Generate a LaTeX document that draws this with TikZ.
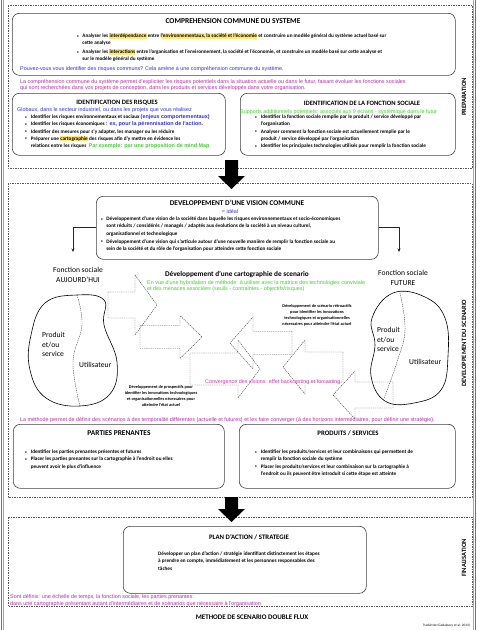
\documentclass[tikz,border=0pt]{standalone}
\usepackage{fontspec}
\setmainfont{Carlito}
\newfontfamily\arialf{Liberation Sans}
\usetikzlibrary{arrows.meta}
\definecolor{bluet}{RGB}{45,45,235}
\definecolor{greent}{RGB}{60,210,40}
\definecolor{purplet}{RGB}{185,40,170}
\definecolor{magt}{RGB}{215,50,180}
\definecolor{hly}{RGB}{255,232,120}
\newcommand\hlt[1]{{\setlength{\fboxsep}{0.2pt}\colorbox{hly}{\vphantom{Ég}#1}}}
\newcommand\bodyf{\fontsize{5.2}{7.3}\selectfont\bfseries}
\newcommand\colf{\arialf\fontsize{5.4}{6.5}\selectfont}
\newcommand\smallf{\fontsize{4.3}{6}\selectfont\bfseries}
\newcommand\blt{\raisebox{0.5pt}{\fontsize{3.4}{4}\selectfont\textbullet}}
\newcommand\llines[1]{\begin{tabular}[t]{@{}l@{}}#1\end{tabular}}
\newcommand\clines[1]{\begin{tabular}[t]{@{}c@{}}#1\end{tabular}}
\newcommand\barrow[6]{\draw[darr] (#1,#4-#5) -- (#2,#4-#5) -- (#2,#4-#6) -- (#3,#4) -- (#2,#4+#6) -- (#2,#4+#5) -- (#1,#4+#5) -- cycle;}
\tikzset{
  rbox/.style={draw=black!75, line width=0.6pt, rounded corners=7pt, anchor=north west, inner sep=0pt},
  sect/.style={draw=black!65, line width=0.5pt, dash pattern=on 1.5pt off 1pt},
  darr/.style={draw=black!70, line width=0.45pt, dash pattern=on 1.3pt off 0.9pt},
  tx/.style={inner sep=0pt, anchor=base west},
  txc/.style={inner sep=0pt, anchor=base},
  head/.style={inner sep=0pt, anchor=base},
  side/.style={inner sep=0pt, rotate=90, font=\bfseries\fontsize{6.5}{7}\selectfont},
  conn/.style={draw=black!85, line width=0.7pt},
  blob/.style={draw=black, line width=0.6pt},
  blobd/.style={draw=black!70, line width=0.45pt, dash pattern=on 1.3pt off 0.9pt},
  bigarr/.style={fill=black, draw=none}
}
\begin{document}
\begin{tikzpicture}[x=1pt, y=-1pt]
\useasboundingbox (0,0) rectangle (477,630);
% page edges
\draw[black!55, line width=1.2pt] (1.2,0) -- (1.2,630);
\draw[black!35, line width=0.5pt] (3.6,0) -- (3.6,630);
\draw[black!55, line width=1.2pt] (475.8,0) -- (475.8,630);
\draw[black!35, line width=0.5pt] (473.4,0) -- (473.4,630);
% sections
\draw[sect] (8,5) rectangle (472,168);
\draw[sect] (8,183) rectangle (472,497);
\draw[sect] (8,517) rectangle (472,606.5);
\node[side] (lprep) at (464,97) {PREPARATION};
\node[side] (ldev) at (464,343) {DEVELOPPEMENT DU SCENARIO};
\node[side] (lfin) at (464,558) {FINALISATION};

% ===== top box
\node[rbox, minimum width=443pt, minimum height=62pt] (cbox) at (12,13) {};
\node[head, font=\bfseries\fontsize{7.5}{8}\selectfont] (cboxh) at (233,23.5) {COMPREHENSION COMMUNE DU SYSTEME};
\node[tx] (cboxb) at (77,37.5) {\bodyf\begin{tabular}[t]{@{}l@{\hspace{3.5pt}}l@{}}
\blt & Analyser les \hlt{interdépendance} entre \hlt{l'environnementaux, la société et l'économie} et construire un modèle général du système actuel basé sur\\
 & cette analyse\\[1.5pt]
\blt & Analyser les \hlt{interactions} entre l'organisation et l'environnement, la société et l'économie, et  construire un modèle basé sur cette analyse et\\
 & sur le modèle général du système
\end{tabular}};
\node[tx, text=bluet, font=\colf] (cboxq) at (20,70) {Pouvez-vous vous identifier des risques communs? Cela amène à une compréhension commune du système.};
\node[tx, text=purplet, font=\colf] (ptxt1) at (20,83) {\llines{La compréhension commune du système permet d'expliciter les risques potentiels dans la situation actuelle ou dans le futur, faisant évoluer les fonctions sociales\\qui sont recherchées dans vos projets de conception, dans les produits et services développés dans votre organisation.}};

% ===== risks box
\node[rbox, minimum width=213pt, minimum height=62pt] (rbx) at (12,93) {};
\node[head, font=\bfseries\fontsize{6.6}{7}\selectfont] (rbxh) at (117,104.5) {IDENTIFICATION DES RISQUES};
\node[tx, text=bluet, font=\colf] (rbxs) at (17,111.5) {Globaux, dans le secteur industriel, ou dans les projets que vous réalisez};
\node[tx] (rbxb) at (25,118.5) {\bodyf\begin{tabular}[t]{@{}l@{\hspace{4pt}}l@{}}
\blt & Identifier les risques environnementaux et sociaux {\colf\color{bluet}(enjeux comportementaux)}\\
\blt & Identifier les risques économiques {\colf\color{bluet}: ex, pour la pérennisation de l'action.}\\
\blt & Identifier des mesures pour s'y adapter, les manager ou les réduire\\
\blt & Préparer une \hlt{cartographie} des risques afin d'y mettre en évidence les\\
 & relations entre les risques \ {\colf\color{greent}Par exemple: par une proposition de mind Map}
\end{tabular}};

% ===== social function box
\node[rbox, minimum width=215pt, minimum height=62pt] (fbx) at (240,93) {};
\node[head, font=\bfseries\fontsize{6.6}{7}\selectfont] (fbxh) at (362,105.5) {IDENTIFICATION DE LA FONCTION SOCIALE};
\begin{scope}
\clip (238,100) rectangle (458,120);
\node[tx, text=greent, font=\colf] (fbxs) at (240,113) {Supports additionnels potentiels: associés aux 9 écrans - systémique dans le futur};
\end{scope}
\node[tx] (fbxb) at (255,118.5) {\bodyf\begin{tabular}[t]{@{}l@{\hspace{4pt}}l@{}}
\blt & Identifier la fonction sociale remplie par le produit / service développé par\\
 & l'organisation\\
\blt & Analyser comment la fonction sociale est actuellement remplie par le\\
 & produit / service développé par l'organisation\\
\blt & Identifier les principales technologies utilisés pour remplir la fonction sociale
\end{tabular}};

% big arrow 1
\fill[bigarr] (225,160) -- (238,160) -- (238,176) -- (245,176) -- (231.5,189) -- (218,176) -- (225,176) -- cycle;

% ===== vision box
\node[rbox, minimum width=282pt, minimum height=63pt] (vis) at (96,196) {};
\node[head, font=\bfseries\fontsize{7.3}{8}\selectfont] (vish) at (237,205.5) {DEVELOPPEMENT D'UNE VISION COMMUNE};
\node[txc, text=bluet, font=\colf] (visi) at (230,213) {= idéal};
\node[tx] (visb) at (101,220.5) {\bodyf\begin{tabular}[t]{@{}l@{\hspace{3.5pt}}l@{}}
\blt & Développement d'une vision de la société dans laquelle les risques environnementaux et socio-économiques\\
 & sont réduits / considérés / managés / adaptés aux évolutions de la société à un niveau culturel,\\
 & organisationnel et technologique\\[1pt]
\blt & Développement d'une vision qui s'articule autour d'une nouvelle manière de remplir la fonction sociale au\\
 & sein de la société et du rôle de l'organisation  pour atteindre cette fonction sociale
\end{tabular}};

% function labels
\node[txc, font=\fontsize{7.6}{10}\selectfont] (fsa) at (78,272.5) {\clines{Fonction sociale\\AUJOURD'HUI}};
\node[txc, font=\fontsize{7.6}{10}\selectfont] (fsf) at (403,275.5) {\clines{Fonction sociale\\FUTURE}};
\coordinate (fsaTop) at (73,252);
\coordinate (fsfTop) at (399,252);
\draw[conn, -{Stealth[length=3.5pt,width=3pt]}] (vis.west) -| (fsaTop);
\draw[conn, -{Stealth[length=3.5pt,width=3pt]}] (vis.east) -| (fsfTop);

% cartography title
\node[head, font=\bfseries\fontsize{7.3}{8}\selectfont] (cart) at (237,276.5) {Développement d'une cartographie de scenario};
\node[tx, text=greent, font=\colf] (cartg) at (147,284) {\llines{En vue d'une hybridation de méthode: à utiliser avec la matrice des technologies conviviale\\et des menaces associées (seuils - contraintes - objectifs/risques)}};

% blobs
\draw[blob] plot[smooth cycle, tension=0.7] coordinates {(31,335) (45,303) (77,295) (104,300) (104,325) (117,362) (110,394) (80,406) (46,398) (30,370)};
\draw[blobd] plot[smooth, tension=0.7] coordinates {(77,295) (82,325) (73,362) (80,406)};
\draw[blob] plot[smooth cycle, tension=0.7] coordinates {(372,318) (393,293) (425,297) (445,318) (448,356) (441,390) (414,403) (385,401) (371,376) (375,345)};
\draw[blobd] plot[smooth, tension=0.7] coordinates {(400,293) (405,330) (397,362) (383,401)};
\node[tx, font=\fontsize{7.6}{9.5}\selectfont] (lprod) at (42,337.5) {\llines{Produit\\et/ou\\service}};
\node[tx, font=\fontsize{7.6}{9.5}\selectfont] (luser) at (79,367.5) {Utilisateur};
\node[tx, font=\fontsize{7.6}{9.5}\selectfont] (rprod) at (377,332.5) {\llines{Produit\\et/ou\\service}};
\node[tx, font=\fontsize{7.6}{9.5}\selectfont] (ruser) at (409,364.5) {Utilisateur};

% dashed block arrows
\barrow{108}{135}{157}{305}{13}{30}
\barrow{140}{180}{202}{337}{11.5}{21.5}
\barrow{190}{238}{260}{369}{16}{29}
\barrow{292}{253}{230}{343}{11.5}{26}
\barrow{343}{305}{283}{367}{15}{27}
\barrow{393}{355}{333}{395}{13}{24}

\node[txc, font=\smallf] (retro) at (317,307.5) {\clines{Développement de scénario rétroactifs\\pour identifier  les innovations\\technologiques et organisationnelles\\nécessaires pour atteindre l'état actuel}};
\node[txc, font=\smallf] (prosp) at (161,388.5) {\clines{Développement de prospectifs pour\\identifier  les innovations technologiques\\et organisationnelles nécessaires pour\\atteindre l'état actuel}};
\node[txc, text=magt, font=\colf] (conv) at (273.5,383) {Convergence des visions: effet backcasting et forcasting.};

\node[tx, text=purplet, font=\colf] (ptxt2) at (20,421) {La méthode permet de définir des scénarios à des temporalité différentes (actuelle et futures) et les faire converger (à des horizons intermédiaires, pour définir une stratégie).};

% ===== stakeholders
\node[rbox, minimum width=211pt, minimum height=64pt] (pbx) at (13,424) {};
\node[head, font=\bfseries\fontsize{7.4}{8}\selectfont] (pbxh) at (119,435.5) {PARTIES PRENANTES};
\node[tx] (pbxb) at (25,453.5) {\bodyf\begin{tabular}[t]{@{}l@{\hspace{4pt}}l@{}}
\blt & Identifier les parties prenantes présentes et futures\\
\blt & Placer les parties prenantes sur la cartographie à l'endroit ou elles\\
 & peuvent avoir le plus d'influence
\end{tabular}};
\node[rbox, minimum width=216pt, minimum height=64pt] (sbx) at (239,424) {};
\node[head, font=\bfseries\fontsize{6.8}{8}\selectfont] (sbxh) at (348,435.5) {PRODUITS / SERVICES};
\node[tx] (sbxb) at (255,453.5) {\bodyf\begin{tabular}[t]{@{}l@{\hspace{4pt}}l@{}}
\blt & Identifier les produits/services et leur combinaisons qui permettent de\\
 & remplir la fonction sociale du système\\
\blt & Placer les produits/services et leur combinaison sur la cartographie à\\
 & l'endroit ou ils peuvent être introduit si cette étape est atteinte
\end{tabular}};

% big arrow 2
\fill[bigarr] (225,497) -- (238,497) -- (238,509) -- (245,509) -- (231.5,522) -- (218,509) -- (225,509) -- cycle;

% ===== plan
\node[rbox, minimum width=243pt, minimum height=67pt] (plan) at (123,526) {};
\node[head, font=\bfseries\fontsize{6.8}{8}\selectfont] (planh) at (249,539.5) {PLAN D'ACTION / STRATEGIE};
\node[tx, font=\bodyf] (planb) at (158,555.5) {\llines{Développer un plan d'action / stratégie identifiant distinctement les étapes\\à prendre en compte, immédiatement et les personnes responsables des\\tâches}};
\node[tx, text=purplet, font=\colf] (ptxt3) at (10,598.5) {\llines{Sont définis: une échelle de temps, la fonction sociale, les parties prenantes:\\dans une cartographie présentant autant d'intermédiaires et de scénarios que nécessaire à l'organisation}};

\node[head, font=\bfseries\fontsize{7}{8}\selectfont] (title) at (252,619.5) {METHODE DE SCENARIO DOUBLE FLUX};
\node[inner sep=0pt, anchor=base east, font=\fontsize{3.4}{4}\selectfont] (src) at (470,626.5) {Traduit de (Gadaloucy et al. 2013)};
\end{tikzpicture}
\end{document}
